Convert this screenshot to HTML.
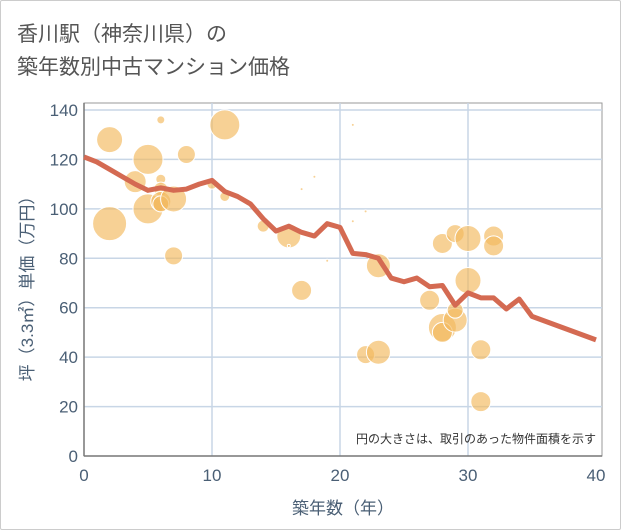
<!DOCTYPE html>
<html><head><meta charset="utf-8">
<style>
body{margin:0;background:#fff;font-family:"Liberation Sans","Noto Sans CJK JP",sans-serif;}
#wrap{position:relative;width:621px;height:530px;overflow:hidden;}
.frame{position:absolute;left:0;top:0;width:619px;height:528px;border:1px solid #ccc;border-radius:2px;}
.title{position:absolute;left:17px;top:18px;font-size:21px;line-height:33px;color:#555;font-family:"Liberation Sans","Noto Sans CJK JP",sans-serif;}
</style></head><body>
<div id="wrap">
<div class="frame"></div>
<div class="title">香川駅（神奈川県）の<br>築年数別中古マンション価格</div>
<svg id="chart" width="621" height="530" style="position:absolute;left:0;top:0"></svg>
</div>
<script>
const xTicks=[0,10,20,30,40];
const yTicks=[0,20,40,60,80,100,120,140];
const bubbleAge=[2,2,4,5,5,6,6,6,6,6,7,7,8,10,11,11,14,16,16,17,17,18,19,21,21,22,22,23,23,27,28,28,28,29,29,29,30,30,31,31,32,32];
const bubblePrice=[128,94,111,120,100,136,112,108,103,102,104,81,122,110,134,105,93,89,85,67,108,113,79,134,95,99,41,42,77,63,86,52,50,55,59,90,88,71,43,22,89,85];
const bubbleSize=[13,17,11,15,15,4,5,7,10,8,13,9,9,5,15,5,6,12,1.5,10,1.5,1.5,1.5,1.5,1.5,1.5,9,12,12,10,10,14,10,12,8,9,13,13,10,10,10,10];
const lineAge=[0,1,2,3,4,5,6,7,8,9,10,11,12,13,14,15,16,17,18,19,20,21,22,23,24,25,26,27,28,29,30,31,32,33,34,35,40];
const linePrice=[121,119,116,113,110,107.5,108.5,107.5,108,110,111.5,107,105,102,96,91,93,90.5,89,94,92.5,82,81.5,80,72,70.5,72,68.5,69,61,66,64,64,59.5,63.5,56.5,47];
const X0=84,X1=596,Y0=456,YT=110;
const sx=v=>X0+(v-0)/40*(X1-X0);
const sy=v=>Y0-v/140*(Y0-YT);
const svg=document.getElementById('chart');
const NS='http://www.w3.org/2000/svg';
function mk(t,a){const e=document.createElementNS(NS,t);for(const k in a)e.setAttribute(k,a[k]);svg.appendChild(e);return e;}
// plot box
let pb=mk('rect',{x:X0,y:103,width:602-X0,height:Y0-103,fill:'none',stroke:'#999','stroke-width':1});


yTicks.forEach(v=>{
 if(v>0){const g=mk('line',{x1:X0,x2:602,y1:sy(v),y2:sy(v),stroke:'#c8d6e6','stroke-width':1.5});
 
 }
 const t=mk('text',{x:X0-6,y:sy(v)+6,'text-anchor':'end','font-size':17,fill:'#4a5f75'});
 t.textContent=v;
 
 
});
xTicks.forEach(v=>{
 if(v>0&&v<40){const g=mk('line',{x1:sx(v),x2:sx(v),y1:103,y2:Y0,stroke:'#c8d6e6','stroke-width':1.5});
 
 }
 const t=mk('text',{x:sx(v),y:Y0+25,'text-anchor':'middle','font-size':17,fill:'#4a5f75'});
 t.textContent=v;
 
 
});
let ax=mk('line',{x1:X0,x2:602,y1:Y0,y2:Y0,stroke:'#777','stroke-width':1.5});


let ay=mk('line',{x1:X0,x2:X0,y1:103,y2:Y0,stroke:'#777','stroke-width':1.5});


bubbleAge.forEach((a,i)=>{
 const c=mk('circle',{cx:sx(a),cy:sy(bubblePrice[i]),r:bubbleSize[i],fill:'#f2b95c','fill-opacity':0.65,stroke:'#fff','stroke-width':1});
 
 
});
const pts=lineAge.map((a,i)=>sx(a)+','+sy(linePrice[i])).join(' ');
const pl=mk('polyline',{points:pts,fill:'none',stroke:'#d46a52','stroke-width':5,'stroke-linejoin':'round'});


const note=mk('text',{x:596,y:443,'text-anchor':'end','font-size':12,fill:'#333'});
note.textContent='円の大きさは、取引のあった物件面積を示す';


const xt=mk('text',{x:(X0+602)/2,y:514,'text-anchor':'middle','font-size':17,fill:'#4a5f75'});
xt.textContent='築年数（年）';


const yt=mk('text',{x:0,y:0,'text-anchor':'middle','font-size':17,fill:'#4a5f75',transform:'translate(33,'+((103+Y0)/2+5)+') rotate(-90)'});
yt.textContent='坪（3.3㎡）単価（万円）';


</script>
</body></html>
